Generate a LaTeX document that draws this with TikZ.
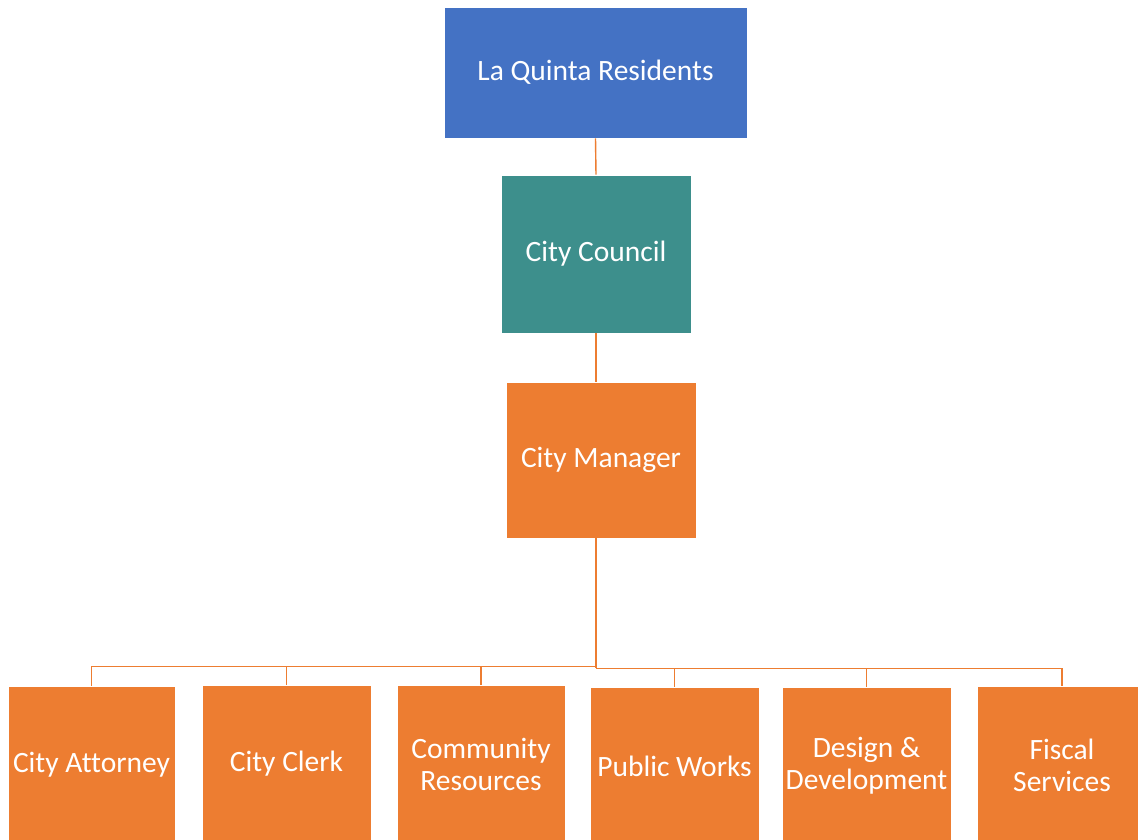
\documentclass[tikz,border=0pt]{standalone}
\usepackage{fontspec}
\setmainfont{Carlito}[Ligatures=NoCommon]
\usetikzlibrary{positioning, calc}
\definecolor{lqblue}{HTML}{4472C4}
\definecolor{lqteal}{HTML}{3D8F8C}
\definecolor{lqorange}{HTML}{ED7D31}

\begin{document}
\begin{tikzpicture}[x=1pt, y=-1pt,
	box/.style={rectangle, draw=white, line width=0.6pt, text=white, align=center, inner sep=0pt, font=\fontsize{29.5}{32}\selectfont},
	link/.style={draw=lqorange, line width=1.4pt}]
\useasboundingbox (0,0) rectangle (1138,839);
\pgfmathsetmacro{\deptW}{169}
\pgfmathsetmacro{\deptH}{158}

% Draw boxes
\node[box, fill=lqblue, minimum width=303pt, minimum height=131pt] (res) at (595.5,72.5) {La Quinta Residents};
\node[box, fill=lqteal, minimum width=190pt, minimum height=158pt] (council) at (596,254) {City Council};
\node[box, fill=lqorange, minimum width=190pt, minimum height=156pt] (mgr) at (601,460) {City Manager};

\node[box, fill=lqorange, minimum width=167pt, minimum height=\deptH pt] (att) at (91.5,765) {City Attorney};
\node[box, fill=lqorange, minimum width=\deptW pt, minimum height=\deptH pt] (clerk) at (286.5,764) {City Clerk};
\node[box, fill=lqorange, minimum width=168pt, minimum height=\deptH pt] (comm) at (481,764) {Community\\Resources};
\node[box, fill=lqorange, minimum width=\deptW pt, minimum height=\deptH pt] (pw) at (674.5,766) {Public Works};
\node[box, fill=lqorange, minimum width=\deptW pt, minimum height=\deptH pt] (dd) at (866.5,766) {Design \&\\Development};
\node[box, fill=lqorange, minimum width=\deptW pt, minimum height=\deptH pt] (fis) at (1062,765) {Fiscal\\Services};

% Draw lines
\draw[link] (res.south) -- (council.north);
\draw[link] (council.south) -- (mgr.north -| council.south);
\coordinate (busL) at ($(mgr.south -| council.south) + (0,128)$);
\coordinate (busR) at ($(busL) + (0,2)$);
\draw[link] (mgr.south -| council.south) -- (busR);
\draw[link] (busL) -- (busL -| att.north) -- (att.north);
\foreach \d in {clerk, comm}
	\draw[link] (busL -| \d.north) -- (\d.north);
\draw[link] (busR) -- (busR -| fis.north) -- (fis.north);
\foreach \d in {pw, dd}
	\draw[link] (busR -| \d.north) -- (\d.north);
\end{tikzpicture}
\end{document}
